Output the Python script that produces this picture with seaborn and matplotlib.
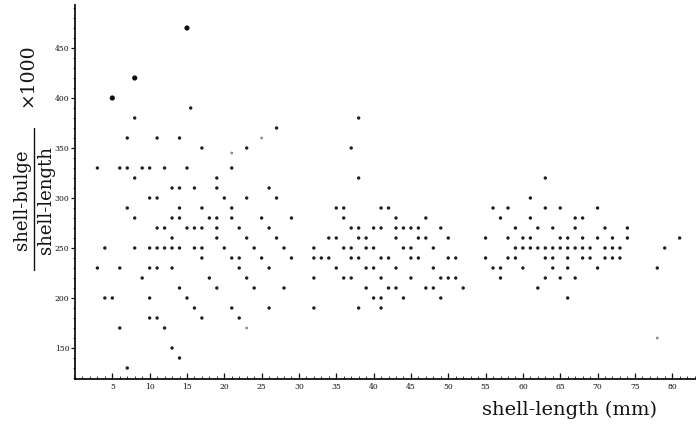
import matplotlib
matplotlib.use("Agg")
import matplotlib.pyplot as plt
import pandas as pd
import seaborn as sns
from matplotlib.ticker import MultipleLocator
from matplotlib.lines import Line2D

sns.set_theme(style="ticks")
plt.rcParams["font.family"] = ["DejaVu Serif"]

# shell length (mm) and bulge/length ratio (x1000) of each measured shell
length_mm = [
    3, 6, 7, 7, 8, 8, 9, 10, 10, 11, 11, 12, 13, 14, 14, 15, 15.5, 16, 17, 19, 19, 20, 21, 23, 23,
    7, 14, 17, 21,
    8, 13, 14, 18, 19, 21,
    11, 12, 15, 16, 17, 19, 22,
    13, 19, 23,
    4, 8, 10, 11, 12, 13, 14, 16, 17, 20, 24,
    17, 21, 22,
    3, 6, 10, 11, 13, 22,
    9, 18, 23,
    14, 19, 24,
    4, 5, 10, 15,
    16, 21,
    10, 11, 17, 22,
    6, 12,
    13, 14, 7,
    27, 38, 37, 38, 26, 27,
    35, 36, 41, 42, 56,
    25, 29, 36, 43, 47, 57,
    26, 37, 38, 40, 41, 43, 44, 45, 46, 49,
    27, 34, 35, 38, 39, 43, 46, 47, 50, 55,
    28, 32, 36, 37, 39, 40, 44, 45, 48,
    25, 29, 32, 33, 34, 37, 38, 41, 42, 45, 46, 50, 51, 55,
    26, 35, 39, 40, 43, 48, 56, 57,
    32, 36, 37, 41, 45, 49, 50, 51, 57,
    28, 39, 42, 43, 47, 48, 52,
    40, 41, 44, 49,
    26, 32, 38, 41,
    63, 61,
    58, 63, 65, 70,
    61, 67, 68,
    59, 62, 64, 67, 71, 74,
    58, 60, 61, 65, 66, 68, 70, 72, 74, 81,
    59, 60, 61, 62, 63, 64, 65, 66, 67, 68, 69, 71, 72, 73, 79,
    58, 59, 63, 64, 66, 68, 69, 71, 72, 73,
    60, 64, 66, 70, 78,
    63, 65, 67,
    62,
    66,
]
bulge_ratio = [
    330, 330, 360, 330, 380, 320, 330, 330, 300, 360, 300, 330, 310, 360, 310, 330, 390, 310, 350, 320, 310, 300, 330, 350, 300,
    290, 290, 290, 290,
    280, 280, 280, 280, 280, 280,
    270, 270, 270, 270, 270, 270, 270,
    260, 260, 260,
    250, 250, 250, 250, 250, 250, 250, 250, 250, 250, 250,
    240, 240, 240,
    230, 230, 230, 230, 230, 230,
    220, 220, 220,
    210, 210, 210,
    200, 200, 200, 200,
    190, 190,
    180, 180, 180, 180,
    170, 170,
    150, 140, 130,
    370, 380, 350, 320, 310, 300,
    290, 290, 290, 290, 290,
    280, 280, 280, 280, 280, 280,
    270, 270, 270, 270, 270, 270, 270, 270, 270, 270,
    260, 260, 260, 260, 260, 260, 260, 260, 260, 260,
    250, 250, 250, 250, 250, 250, 250, 250, 250,
    240, 240, 240, 240, 240, 240, 240, 240, 240, 240, 240, 240, 240, 240,
    230, 230, 230, 230, 230, 230, 230, 230,
    220, 220, 220, 220, 220, 220, 220, 220, 220,
    210, 210, 210, 210, 210, 210, 210,
    200, 200, 200, 200,
    190, 190, 190, 190,
    320, 300,
    290, 290, 290, 290,
    280, 280, 280,
    270, 270, 270, 270, 270, 270,
    260, 260, 260, 260, 260, 260, 260, 260, 260, 260,
    250, 250, 250, 250, 250, 250, 250, 250, 250, 250, 250, 250, 250, 250, 250,
    240, 240, 240, 240, 240, 240, 240, 240, 240, 240,
    230, 230, 230, 230, 230,
    220, 220, 220,
    210,
    200,
]

# the three outlying shells, printed with heavier dots
large_length_mm = [5, 8, 15]
large_bulge_ratio = [400, 420, 470]

# lightly printed dots
faint_length_mm = [21, 25, 23, 78]
faint_bulge_ratio = [345, 360, 170, 160]

x_ticks = list(range(5, 85, 5))
y_ticks = [150, 200, 250, 300, 350, 400, 450]

W, H = 696, 424
fig = plt.figure(figsize=(W / 100, H / 100), dpi=100)
fig.patch.set_facecolor("white")
ax = fig.add_axes([75 / W, 45 / H, 621 / W, 374 / H])
ax.set_facecolor("white")

main = pd.DataFrame({"length": length_mm, "ratio": bulge_ratio})
large = pd.DataFrame({"length": large_length_mm, "ratio": large_bulge_ratio})
faint = pd.DataFrame({"length": faint_length_mm, "ratio": faint_bulge_ratio})

sns.scatterplot(data=main, x="length", y="ratio", ax=ax, s=6, color="#1e1e1e",
                edgecolor="none", linewidth=0, legend=False)
sns.scatterplot(data=large, x="length", y="ratio", ax=ax, s=14, color="#111111",
                edgecolor="none", linewidth=0, legend=False)
sns.scatterplot(data=faint, x="length", y="ratio", ax=ax, s=4, color="#8a8a8a",
                edgecolor="none", linewidth=0, legend=False)

ax.set_xlim(0, 621 / 7.465)
ax.set_ylim(119, 493)
ax.set_xticks(x_ticks)
ax.set_xticklabels([str(v) for v in x_ticks])
ax.set_yticks(y_ticks)
ax.set_yticklabels([str(v) for v in y_ticks])
ax.xaxis.set_minor_locator(MultipleLocator(1))
ax.yaxis.set_minor_locator(MultipleLocator(10))

for side in ("top", "right"):
    ax.spines[side].set_visible(False)
for side in ("left", "bottom"):
    ax.spines[side].set_linewidth(1.3)
    ax.spines[side].set_color("#111111")

ax.tick_params(axis="x", which="major", direction="in", length=4, width=0.9,
               labelsize=5.5, pad=3, colors="#111111")
ax.tick_params(axis="x", which="minor", direction="in", length=2, width=0.6,
               colors="#111111")
ax.tick_params(axis="y", which="major", direction="out", length=3, width=0.9,
               labelsize=5.5, pad=1, colors="#111111")
ax.tick_params(axis="y", which="minor", direction="out", length=1.5, width=0.6,
               colors="#111111")
ax.set_xlabel("")
ax.set_ylabel("")
ax.grid(False)

# y-axis title written as a fraction, rotated
fig.text(22 / W, 1 - 200 / H, "shell-bulge", rotation=90, ha="center", va="center",
         fontsize=13, color="#111111")
fig.text(46 / W, 1 - 200 / H, "shell-length", rotation=90, ha="center", va="center",
         fontsize=13, color="#111111")
fig.add_artist(Line2D([34 / W, 34 / W], [1 - 128 / H, 1 - 270 / H],
                      transform=fig.transFigure, color="#111111", linewidth=1.0))
fig.text(27 / W, 1 - 75 / H, "\u00d71000", rotation=90, ha="center", va="center",
         fontsize=13.5, color="#111111")

# x-axis title
fig.text(570 / W, 1 - 410 / H, "shell-length (mm)", ha="center", va="center",
         fontsize=14, color="#111111")

fig.savefig("out.png", dpi=100, facecolor="white")
